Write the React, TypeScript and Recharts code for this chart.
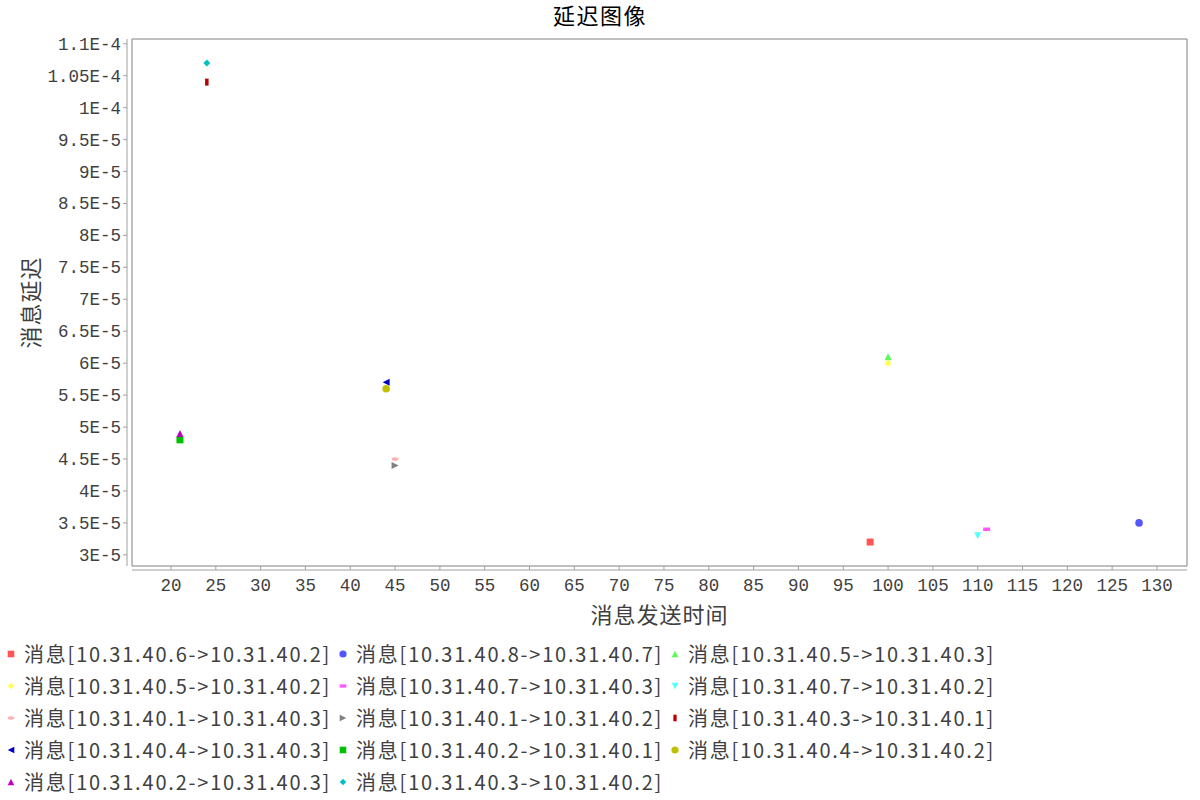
import React from 'react';
import { ScatterChart, Scatter, XAxis, YAxis, ReferenceArea, Legend } from 'recharts';

const seriesNames = [
  '消息[10.31.40.6->10.31.40.2]',
  '消息[10.31.40.8->10.31.40.7]',
  '消息[10.31.40.5->10.31.40.3]',
  '消息[10.31.40.5->10.31.40.2]',
  '消息[10.31.40.7->10.31.40.3]',
  '消息[10.31.40.7->10.31.40.2]',
  '消息[10.31.40.1->10.31.40.3]',
  '消息[10.31.40.1->10.31.40.2]',
  '消息[10.31.40.3->10.31.40.1]',
  '消息[10.31.40.4->10.31.40.3]',
  '消息[10.31.40.2->10.31.40.1]',
  '消息[10.31.40.4->10.31.40.2]',
  '消息[10.31.40.2->10.31.40.3]',
  '消息[10.31.40.3->10.31.40.2]',
];
const seriesColors = [
  '#FF5555', '#5555FF', '#55FF55', '#FFFF55', '#FF55FF', '#55FFFF', '#FFAFAF',
  '#808080', '#C00000', '#0000C0', '#00C000', '#C0C000', '#C000C0', '#00C0C0',
];
const seriesShapes = [
  'square', 'circle', 'triUp', 'diamond', 'rectH', 'triDown', 'ellipseH',
  'triRight', 'rectV', 'triLeft', 'square', 'circle', 'triUp', 'diamond',
];
const sendTimes = [98, 128, 100, 100, 111, 110, 45, 45, 24, 44, 21, 44, 21, 24];
const delays = [
  3.2e-5, 3.5e-5, 6.1e-5, 6.0e-5, 3.4e-5, 3.3e-5, 4.5e-5,
  4.4e-5, 1.04e-4, 5.7e-5, 4.8e-5, 5.6e-5, 4.9e-5, 1.07e-4,
];
const xTicks = [20, 25, 30, 35, 40, 45, 50, 55, 60, 65, 70, 75, 80, 85, 90, 95, 100, 105, 110, 115, 120, 125, 130];
const yTicks = [3e-5, 3.5e-5, 4e-5, 4.5e-5, 5e-5, 5.5e-5, 6e-5, 6.5e-5, 7e-5, 7.5e-5, 8e-5, 8.5e-5, 9e-5, 9.5e-5, 1e-4, 1.05e-4, 1.1e-4];
const yTickLabels = ['3E-5', '3.5E-5', '4E-5', '4.5E-5', '5E-5', '5.5E-5', '6E-5', '6.5E-5', '7E-5', '7.5E-5', '8E-5', '8.5E-5', '9E-5', '9.5E-5', '1E-4', '1.05E-4', '1.1E-4'];
const xDomain = [15.65, 133.35];
const yDomain = [2.825e-5, 1.1075e-4];

const FONT = '"Noto Sans CJK SC", "Noto Sans", sans-serif';
const MONO = '"Liberation Mono", "DejaVu Sans Mono", monospace';
const TEXT_COLOR = '#404040';

function marker(kind: string, cx: number, cy: number, color: string, s = 3.5) {
  switch (kind) {
    case 'square':
      return <rect x={cx - s} y={cy - s} width={2 * s} height={2 * s} fill={color} />;
    case 'circle':
      return <circle cx={cx} cy={cy} r={s + 0.3} fill={color} />;
    case 'triUp':
      return <path d={`M${cx},${cy - s}L${cx + s},${cy + s}L${cx - s},${cy + s}Z`} fill={color} />;
    case 'triDown':
      return <path d={`M${cx},${cy + s}L${cx + s},${cy - s}L${cx - s},${cy - s}Z`} fill={color} />;
    case 'triRight':
      return <path d={`M${cx + s},${cy}L${cx - s},${cy - s}L${cx - s},${cy + s}Z`} fill={color} />;
    case 'triLeft':
      return <path d={`M${cx - s},${cy}L${cx + s},${cy - s}L${cx + s},${cy + s}Z`} fill={color} />;
    case 'diamond':
      return <path d={`M${cx},${cy - s}L${cx + s},${cy}L${cx},${cy + s}L${cx - s},${cy}Z`} fill={color} />;
    case 'rectH':
      return <rect x={cx - s} y={cy - s / 2} width={2 * s} height={s} fill={color} />;
    case 'rectV':
      return <rect x={cx - s / 2} y={cy - s} width={s} height={2 * s} fill={color} />;
    case 'ellipseH':
      return <ellipse cx={cx} cy={cy} rx={s} ry={s / 2} fill={color} />;
    default:
      return <circle cx={cx} cy={cy} r={s} fill={color} />;
  }
}

const YTick = (props: any) => {
  const { x, y, payload } = props;
  const idx = yTicks.findIndex((v) => Math.abs(v - payload.value) < 1e-12);
  const label = idx >= 0 ? yTickLabels[idx] : String(payload.value);
  return (
    <g>
      <line x1={x - 1} x2={x + 3} y1={y} y2={y} stroke="#a0a0a0" />
      <text x={x - 3} y={y + 1} textAnchor="end" dominantBaseline="central" fontSize={17.5} fill={TEXT_COLOR} fontFamily={MONO}>
        {label}
      </text>
    </g>
  );
};

const XTick = (props: any) => {
  const { x, y, payload } = props;
  return (
    <g>
      <line x1={x} x2={x} y1={y - 8} y2={y - 4} stroke="#a0a0a0" />
      <text x={x} y={y + 12} textAnchor="middle" dominantBaseline="central" fontSize={17.5} fill={TEXT_COLOR} fontFamily={MONO}>
        {payload.value}
      </text>
    </g>
  );
};

const LegendContent = (props: any) => {
  const payload = (props.payload || []) as any[];
  const entries = seriesNames.map((name, i) => {
    const p = payload.find((e) => e.value === name);
    return { name, color: (p && p.color) || seriesColors[i], shape: seriesShapes[i] };
  });
  return (
    <div style={{ display: 'grid', gridTemplateColumns: '332px 332px 332px', fontFamily: FONT }}>
      {entries.map((e, i) => (
        <div key={i} style={{ height: 32, display: 'flex', alignItems: 'center', whiteSpace: 'nowrap' }}>
          <svg width={24} height={20} style={{ flex: 'none' }}>
            {marker(e.shape, 11, 10, e.color, 3.3)}
          </svg>
          <span style={{ fontSize: 20, letterSpacing: 1.8, color: TEXT_COLOR, lineHeight: '32px' }}>{e.name}</span>
        </div>
      ))}
    </div>
  );
};

export default function App() {
  return (
    <div style={{ position: 'absolute', left: 0, top: 0, width: 1200, height: 800, background: '#fff' }}>
      <div style={{ position: 'absolute', left: 0, top: 0, width: 1200, height: 28, lineHeight: '28px', textAlign: 'center', fontSize: 22, letterSpacing: 1.5, fontFamily: FONT, color: '#000' }}>
        延迟图像
      </div>
      <ScatterChart width={1200} height={800} margin={{ top: 39, right: 13, bottom: 174, left: 0 }}>
        <XAxis
          type="number"
          dataKey="x"
          domain={xDomain}
          ticks={xTicks}
          allowDataOverflow
          height={60}
          tickLine={false}
          axisLine={{ stroke: '#a0a0a0', transform: 'translate(0,4)' }}
          tick={<XTick />}
          interval={0}
          label={(p: any) => {
            const vb = p.viewBox || {};
            return (
              <text x={vb.x + vb.width / 2} y={vb.y + 47} textAnchor="middle" dominantBaseline="central" fontSize={22} letterSpacing={1} fill={TEXT_COLOR} fontFamily={FONT}>
                消息发送时间
              </text>
            );
          }}
        />
        <YAxis
          type="number"
          dataKey="y"
          domain={yDomain}
          ticks={yTicks}
          allowDataOverflow
          width={132}
          tickLine={false}
          axisLine={{ stroke: '#a0a0a0', transform: 'translate(-5,0)' }}
          tick={<YTick />}
          interval={0}
          label={(p: any) => {
            const vb = p.viewBox || {};
            const cx = vb.x + 29;
            const cy = vb.y + vb.height / 2;
            return (
              <text x={cx} y={cy} textAnchor="middle" dominantBaseline="central" fontSize={22} letterSpacing={1} fill={TEXT_COLOR} fontFamily={FONT} transform={`rotate(-90 ${cx} ${cy})`}>
                消息延迟
              </text>
            );
          }}
        />
        <ReferenceArea x1={xDomain[0]} x2={xDomain[1]} y1={yDomain[0]} y2={yDomain[1]} fill="none" stroke="#808080" strokeWidth={1} ifOverflow="extendDomain" />
        {seriesNames.map((name, i) => (
          <Scatter
            key={name}
            name={name}
            data={[{ x: sendTimes[i], y: delays[i] }]}
            fill={seriesColors[i]}
            isAnimationActive={false}
            shape={(p: any) => marker(seriesShapes[i], p.cx, p.cy, seriesColors[i])}
          />
        ))}
        <Legend
          layout="horizontal"
          verticalAlign="middle"
          align="center"
          wrapperStyle={{ top: 638, left: 0, width: 1200 }}
          content={<LegendContent />}
        />
      </ScatterChart>
    </div>
  );
}
